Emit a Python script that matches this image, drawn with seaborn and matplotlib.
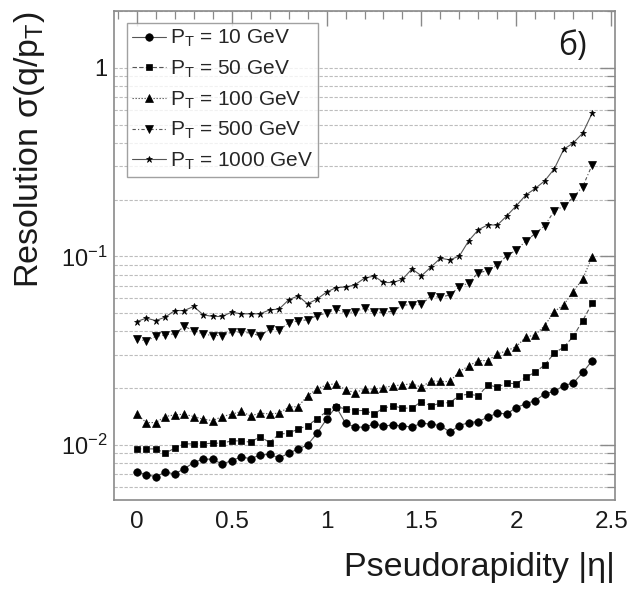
import numpy as np
import pandas as pd
import matplotlib
matplotlib.use("Agg")
import matplotlib.pyplot as plt
import seaborn as sns
from matplotlib.ticker import LogLocator, MultipleLocator, FuncFormatter, NullFormatter

# ---------------- data ----------------
eta = [0.00, 0.05, 0.10, 0.15, 0.20, 0.25, 0.30, 0.35, 0.40, 0.45,
       0.50, 0.55, 0.60, 0.65, 0.70, 0.75, 0.80, 0.85, 0.90, 0.95,
       1.00, 1.05, 1.10, 1.15, 1.20, 1.25, 1.30, 1.35, 1.40, 1.45,
       1.50, 1.55, 1.60, 1.65, 1.70, 1.75, 1.80, 1.85, 1.90, 1.95,
       2.00, 2.05, 2.10, 2.15, 2.20, 2.25, 2.30, 2.35, 2.40]

res_10 = [0.00722, 0.00693, 0.00679, 0.00716, 0.00702, 0.00746, 0.00806, 0.00840, 0.00840, 0.00790,
          0.00826, 0.00861, 0.00846, 0.00881, 0.00893, 0.00850, 0.00904, 0.00949, 0.01000, 0.01153,
          0.01368, 0.01596, 0.01303, 0.01242, 0.01242, 0.01288, 0.01262, 0.01272, 0.01262, 0.01242,
          0.01303, 0.01288, 0.01266, 0.01168, 0.01266, 0.01313, 0.01330, 0.01403, 0.01473, 0.01460,
          0.01577, 0.01651, 0.01718, 0.01866, 0.01920, 0.02064, 0.02125, 0.02420, 0.02800]

res_50 = [0.00952, 0.00952, 0.00952, 0.00904, 0.00960, 0.01012, 0.01012, 0.01012, 0.01021, 0.01021,
          0.01050, 0.01050, 0.01033, 0.01107, 0.01029, 0.01140, 0.01153, 0.01211, 0.01266, 0.01374,
          0.01503, 0.01596, 0.01552, 0.01521, 0.01521, 0.01460, 0.01566, 0.01610, 0.01566, 0.01566,
          0.01698, 0.01610, 0.01664, 0.01676, 0.01826, 0.01858, 0.01820, 0.02081, 0.02023, 0.02125,
          0.02109, 0.02287, 0.02430, 0.02657, 0.03064, 0.03300, 0.03758, 0.04563, 0.05644]

res_100 = [0.01455, 0.01313, 0.01313, 0.01413, 0.01443, 0.01455, 0.01413, 0.01368, 0.01345, 0.01413,
           0.01455, 0.01503, 0.01425, 0.01473, 0.01460, 0.01473, 0.01585, 0.01596, 0.01820, 0.01982,
           0.02081, 0.02109, 0.01959, 0.01893, 0.01974, 0.01974, 0.02014, 0.02056, 0.02081, 0.02109,
           0.02023, 0.02185, 0.02168, 0.02168, 0.02448, 0.02625, 0.02800, 0.02800, 0.03039, 0.03154,
           0.03323, 0.03727, 0.03833, 0.04295, 0.05094, 0.05530, 0.06506, 0.07598, 0.09970]

res_500 = [0.03636, 0.03563, 0.03758, 0.03833, 0.03881, 0.04244, 0.04040, 0.03866, 0.03802, 0.03802,
           0.03963, 0.03963, 0.03915, 0.03788, 0.04110, 0.04074, 0.04424, 0.04550, 0.04603, 0.04853,
           0.05000, 0.05248, 0.05000, 0.05094, 0.05297, 0.05047, 0.05047, 0.05105, 0.05508, 0.05530,
           0.05552, 0.06150, 0.06058, 0.06246, 0.06887, 0.07233, 0.08204, 0.08375, 0.08976, 0.10090,
           0.10790, 0.12050, 0.13210, 0.14560, 0.17390, 0.18460, 0.20550, 0.23440, 0.30570]

res_1000 = [0.04508, 0.04699, 0.04563, 0.04757, 0.05158, 0.05158, 0.05420, 0.04895, 0.04797, 0.04797,
            0.05058, 0.04955, 0.04955, 0.04955, 0.05200, 0.05248, 0.05875, 0.06166, 0.05598, 0.05929,
            0.06457, 0.06823, 0.06871, 0.07063, 0.07660, 0.07860, 0.07263, 0.07263, 0.07551, 0.08570,
            0.07880, 0.08770, 0.09772, 0.09575, 0.10040, 0.12120, 0.13830, 0.14690, 0.14640, 0.16400,
            0.18540, 0.21130, 0.22910, 0.25160, 0.29110, 0.36970, 0.39890, 0.45050, 0.57520]

labels = ["P$_{\\rm T}$ = 10 GeV", "P$_{\\rm T}$ = 50 GeV", "P$_{\\rm T}$ = 100 GeV",
          "P$_{\\rm T}$ = 500 GeV", "P$_{\\rm T}$ = 1000 GeV"]
yticks = [0.01, 0.1, 1.0]
ytick_labels = ["10$^{-2}$", "10$^{-1}$", "1"]

# ---------------- style ----------------
sns.set_theme(style="white")
plt.rcParams["font.family"] = ["Liberation Sans", "DejaVu Sans"]
plt.rcParams["mathtext.fontset"] = "custom"
plt.rcParams["mathtext.rm"] = "Liberation Sans"
plt.rcParams["mathtext.it"] = "Liberation Sans:italic"
plt.rcParams["mathtext.bf"] = "Liberation Sans:bold"
plt.rcParams["mathtext.default"] = "regular"

fig = plt.figure(figsize=(6.37, 5.89), dpi=100)
ax = fig.add_axes([114 / 637, 1 - 500 / 589, 501 / 637, 489 / 589])

frame_col = "#8a8a8a"
line_col = "#555555"

styles = [
    dict(marker="o", markersize=5.4, linestyle="-"),
    dict(marker="s", markersize=5.0, linestyle=(0, (4, 2))),
    dict(marker="^", markersize=5.4, linestyle=(0, (1.2, 1.5))),
    dict(marker="v", markersize=5.4, linestyle=(0, (3, 2, 1, 2))),
    dict(marker="*", markersize=4.5, linestyle="-"),
]
series = [res_10, res_50, res_100, res_500, res_1000]

for vals, lab, st in zip(series, labels, styles):
    df = pd.DataFrame({"eta": eta, "res": vals})
    sns.lineplot(data=df, x="eta", y="res", ax=ax, color=line_col, lw=0.8,
                 linestyle=st["linestyle"], marker=st["marker"],
                 markersize=st["markersize"], markerfacecolor="black",
                 markeredgecolor="black", markeredgewidth=0.5,
                 errorbar=None, legend=False)

ax.set_yscale("log")
ax.set_xlim(-0.12, 2.52)
ax.set_ylim(0.0051, 2.0)

ax.xaxis.set_major_locator(MultipleLocator(0.5))
ax.xaxis.set_minor_locator(MultipleLocator(0.1))
ax.xaxis.set_major_formatter(FuncFormatter(lambda v, p: f"{v:g}"))
ax.set_yticks(yticks)
ax.set_yticklabels(ytick_labels)
ax.yaxis.set_minor_locator(LogLocator(base=10, subs=np.arange(2, 10), numticks=30))
ax.yaxis.set_minor_formatter(NullFormatter())

ax.tick_params(which="both", direction="in", top=True, right=True,
               color=frame_col, labelcolor="#1a1a1a")
ax.tick_params(axis="x", labelsize=17.5)
ax.tick_params(axis="y", labelsize=17)
ax.tick_params(which="major", length=11, width=1.0)
ax.tick_params(which="minor", length=6, width=0.9)
ax.tick_params(axis="x", which="major", pad=8)
ax.tick_params(axis="y", which="major", pad=5)

for s in ax.spines.values():
    s.set_color(frame_col)
    s.set_linewidth(1.2)

ax.yaxis.grid(True, which="both", color="#bdbdbd", linestyle=(0, (3, 1.5)), lw=0.8)
ax.xaxis.grid(False)
ax.set_axisbelow(True)

ax.set_xlabel("Pseudorapidity |η|", fontsize=24.5, loc="right", color="#1a1a1a")
ax.set_ylabel("Resolution σ(q/p$_{\\rm T}$)", fontsize=24.5, loc="top", color="#1a1a1a")
ax.xaxis.set_label_coords(1.0, -0.106)
ax.yaxis.set_label_coords(-0.134, 1.0)

leg = ax.legend(handles=ax.lines[:5], labels=labels, loc="upper left",
                bbox_to_anchor=(0.026, 0.976), borderaxespad=0, fontsize=15,
                frameon=True, fancybox=False, edgecolor=frame_col,
                handlelength=1.6, handletextpad=0.2, labelspacing=0.45,
                borderpad=0.25)
leg.get_frame().set_linewidth(1.0)
leg.get_frame().set_facecolor("white")

ax.text(0.915, 0.928, "б)", transform=ax.transAxes, ha="center", va="center",
        fontsize=23, family=["Open Sans", "DejaVu Sans"], color="#1a1a1a")

fig.savefig("out.png", dpi=100)
